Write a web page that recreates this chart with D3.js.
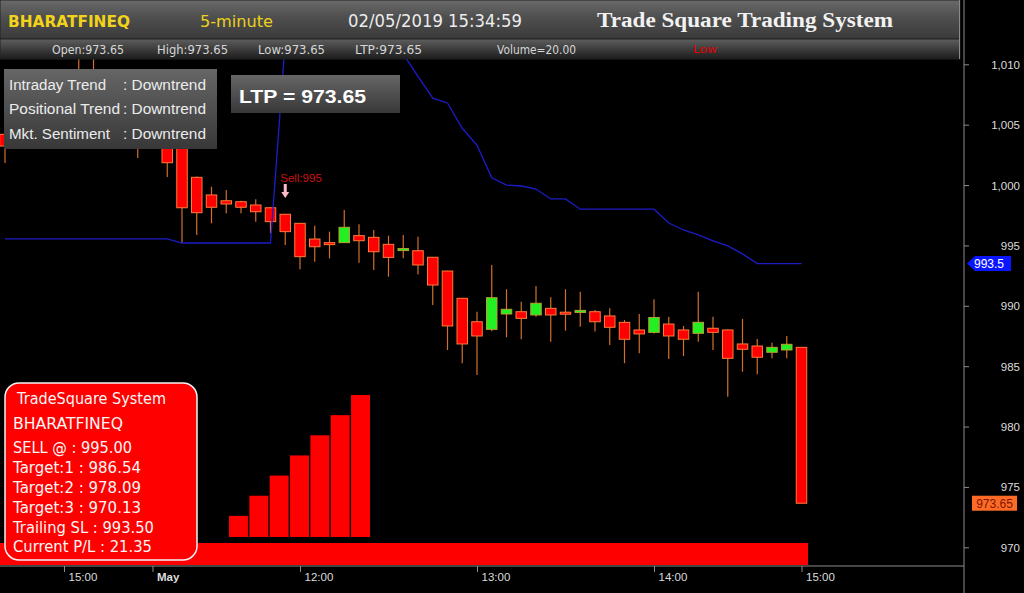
<!DOCTYPE html>
<html>
<head>
<meta charset="utf-8">
<script src="https://cdn.jsdelivr.net/npm/d3@7/dist/d3.min.js"></script>
<style>
  html, body { margin: 0; padding: 0; background: #000; }
  svg { display: block; }
</style>
</head>
<body>
<svg id="chart" width="1024" height="593"></svg>
<script>
// 5-minute candles, oldest first (first few sit behind the trend box)
var openVals  = [1004.2, 1004.5, 1005.5, 1006.0, 1007.2, 1008.6, 1007.0, 1008.4, 1006.3, 1004.8,
                 1006.5, 1004.2, 1003.5, 1000.64, 999.18, 998.70, 998.62, 998.35, 998.12, 997.58,
                 996.83, 995.53, 995.23, 995.23, 995.81, 995.67, 995.09, 994.62, 994.56, 994.02,
                 992.88, 990.62, 988.68, 988.05, 989.32, 989.51, 989.24, 989.79, 989.47, 989.45,
                 989.51, 989.16, 988.63, 988.00, 987.80, 988.49, 988.00, 987.72, 988.14, 988.00,
                 986.84, 986.67, 986.15, 986.34, 986.56];
var highVals  = [1004.8, 1005.6, 1006.4, 1007.2, 1008.3, 1011.0, 1011.2, 1009.0, 1007.0, 1005.5,
                 1007.5, 1005.0, 1004.0, 1000.7, 999.86, 999.59, 998.70, 998.82, 998.15, 997.60,
                 996.85, 996.63, 996.14, 997.93, 996.75, 996.28, 995.81, 995.86, 995.72, 994.05,
                 992.90, 990.65, 989.51, 993.38, 991.37, 990.33, 991.64, 990.71, 991.37, 991.17,
                 989.65, 989.79, 988.82, 989.32, 990.54, 989.10, 988.33, 991.17, 989.10, 988.05,
                 988.91, 987.25, 986.94, 987.50, 986.56];
var lowVals   = [1001.83, 1003.4, 1004.1, 1005.0, 1005.6, 1006.8, 1006.0, 1005.5, 1004.0, 1002.24,
                 1003.0, 1000.67, 995.18, 995.86, 996.83, 997.66, 997.66, 996.97, 996.00, 995.03,
                 993.02, 993.65, 993.93, 995.20, 993.57, 992.96, 992.41, 993.93, 992.60, 990.07,
                 986.34, 985.24, 984.27, 987.90, 987.39, 987.23, 989.10, 987.03, 987.94, 988.27,
                 987.87, 986.76, 985.24, 986.07, 987.70, 985.59, 985.84, 987.03, 986.34, 982.47,
                 984.54, 984.33, 985.65, 985.65, 973.65];
var closeVals = [1003.23, 1004.2, 1004.6, 1005.6, 1006.1, 1007.3, 1008.2, 1006.2, 1004.6, 1003.4,
                 1004.0, 1001.85, 998.12, 997.71, 998.16, 998.43, 998.16, 997.79, 996.97, 996.14,
                 994.07, 994.89, 995.12, 996.50, 995.39, 994.48, 994.01, 994.74, 993.38, 991.72,
                 988.33, 986.84, 987.50, 990.67, 989.71, 988.96, 990.21, 989.24, 989.45, 989.62,
                 988.68, 988.22, 987.23, 987.67, 989.03, 987.50, 987.23, 988.63, 987.80, 985.65,
                 986.40, 985.74, 986.56, 986.81, 973.65];
// trailing stop line
var trailSL   = [995.55, 995.55, 995.55, 995.55, 995.55, 995.55, 995.55, 995.55, 995.55, 995.55,
                 995.55, 995.55, 995.2, 995.2, 995.2, 995.2, 995.2, 995.2, 995.2, 1011.9,
                 1012.0, 1012.0, 1012.0, 1011.8, 1011.6, 1011.4, 1011.2, 1010.85, 1009.0, 1007.2,
                 1006.8, 1004.7, 1003.3, 1000.6, 1000.0, 999.92, 999.67, 998.85, 998.85, 998.0,
                 998.0, 998.0, 998.0, 998.0, 998.0, 996.86, 996.28, 995.87, 995.38, 994.96,
                 994.3, 993.5, 993.5, 993.5, 993.5];
var timeTickIdx    = [4, 10, 20, 32, 44, 54];
var timeTickLabels = ["15:00", "May", "12:00", "13:00", "14:00", "15:00"];
var priceTicks     = [970, 975, 980, 985, 990, 995, 1000, 1005, 1010];
var strengthLevels = [1, 2, 3, 4, 5, 6, 7];
var sellIdx = 19, sellLabel = "Sell:995";
var trendRows  = ["Intraday Trend", "Positional Trend", "Mkt. Sentiment"];
var trendVals  = [": Downtrend", ": Downtrend", ": Downtrend"];
var signalRows = ["TradeSquare System", "BHARATFINEQ", "SELL @ : 995.00", "Target:1 : 986.54",
                  "Target:2 : 978.09", "Target:3 : 970.13", "Trailing SL : 993.50", "Current P/L : 21.35"];
var statRows   = ["Open:973.65", "High:973.65", "Low:973.65", "LTP:973.65", "Volume=20.00"];
var ltp = 973.65, lastSL = 993.5;

var svg = d3.select("#chart");
var W = 1024, H = 593;

var x = d3.scaleLinear().domain([0, openVals.length - 1]).range([5, 801.5]);
var y = d3.scaleLinear().domain([970, 1010]).range([547.3, 64.3]);
var bodyW = 10.5;

var defs = svg.append("defs");
function grad(id, stops) {
  var g = defs.append("linearGradient").attr("id", id)
    .attr("x1", 0).attr("y1", 0).attr("x2", 0).attr("y2", 1);
  stops.forEach(function(s) {
    g.append("stop").attr("offset", s[0]).attr("stop-color", s[1]);
  });
}
grad("hdr1", [[0, "#6a6a6a"], [0.45, "#4e4e4e"], [1, "#3a3a3a"]]);
grad("hdr2", [[0, "#5e5e5e"], [1, "#1c1c1c"]]);
grad("boxg", [[0, "#666666"], [1, "#383838"]]);

svg.append("rect").attr("width", W).attr("height", H).attr("fill", "#000");

// candles
var candles = d3.range(openVals.length).map(function(i) {
  return { i: i, o: openVals[i], h: highVals[i], l: lowVals[i], c: closeVals[i] };
});

var cg = svg.append("g").attr("class", "candles");
cg.selectAll("line.wick")
  .data(candles)
  .enter().append("line")
    .attr("class", "wick")
    .attr("x1", function(d) { return x(d.i); })
    .attr("x2", function(d) { return x(d.i); })
    .attr("y1", function(d) { return y(d.h); })
    .attr("y2", function(d) { return y(d.l); })
    .attr("stroke", "#d0702a")
    .attr("stroke-width", 1.2);

cg.selectAll("rect.body")
  .data(candles)
  .enter().append("rect")
    .attr("class", "body")
    .attr("x", function(d) { return x(d.i) - bodyW / 2; })
    .attr("width", bodyW)
    .attr("y", function(d) { return y(Math.max(d.o, d.c)); })
    .attr("height", function(d) { return Math.max(2, Math.abs(y(d.o) - y(d.c))); })
    .attr("fill", function(d) { return d.c >= d.o ? "#22f022" : "#ff0000"; })
    .attr("stroke", function(d) { return d.c >= d.o ? "#b8a030" : "#ff7a3a"; })
    .attr("stroke-width", 1);

// trailing stop line
var line = d3.line()
  .x(function(d, i) { return x(i); })
  .y(function(d) { return y(d); });
svg.append("path")
  .datum(trailSL)
  .attr("d", line)
  .attr("fill", "none")
  .attr("stroke", "#1c1cc8")
  .attr("stroke-width", 1.3);

// sell signal
var sx = x(sellIdx);
svg.append("text")
  .attr("x", sx - 5).attr("y", 182)
  .attr("fill", "#cc1010")
  .attr("font-family", "Liberation Sans, Arial, sans-serif")
  .attr("font-size", 11.5)
  .text(sellLabel);
svg.append("path")
  .attr("d", "M" + (sx - 1.5) + ",184 h3 v8 h2.5 l-4,6 l-4,-6 h2.5 z")
  .attr("fill", "#ffb8c8");

// signal strength bars and red band
svg.append("rect")
  .attr("x", 0).attr("y", 543).attr("width", 808).attr("height", 22)
  .attr("fill", "#ff0000");
var sb = d3.scaleBand().domain(strengthLevels).range([229, 370]).paddingInner(0.07);
var sh = d3.scaleLinear().domain([0, 7]).range([537, 396]);
svg.selectAll("rect.strength")
  .data(strengthLevels)
  .enter().append("rect")
    .attr("class", "strength")
    .attr("x", function(d) { return sb(d); })
    .attr("width", sb.bandwidth())
    .attr("y", function(d) { return sh(d) - 1; })
    .attr("height", function(d) { return 537 - sh(d) + 1; })
    .attr("fill", "#ff0000");

// axes
var axisColor = "#8c8c8c";
svg.append("line").attr("x1", 964).attr("x2", 964).attr("y1", 0).attr("y2", H)
  .attr("stroke", axisColor);
svg.append("line").attr("x1", 0).attr("x2", 964).attr("y1", 566).attr("y2", 566)
  .attr("stroke", axisColor);

var yAxis = d3.axisRight(y).tickValues(priceTicks).tickSize(5).tickFormat(d3.format(","));
var ya = svg.append("g").attr("transform", "translate(964,0)").call(yAxis);
ya.select(".domain").remove();
ya.selectAll("line").attr("stroke", axisColor);
ya.selectAll("text")
  .attr("x", 56).attr("text-anchor", "end").attr("dy", "0.35em")
  .attr("fill", "#dcdcdc")
  .attr("font-family", "Liberation Sans, Arial, sans-serif").attr("font-size", 11.5);

var xAxis = d3.axisBottom(x).tickValues(timeTickIdx).tickSize(6)
  .tickFormat(function(d, i) { return timeTickLabels[i]; });
var xa = svg.append("g").attr("transform", "translate(0,566)").call(xAxis);
xa.select(".domain").remove();
xa.selectAll("line").attr("stroke", axisColor);
xa.selectAll("text")
  .attr("text-anchor", "start").attr("dx", 4).attr("y", 5).attr("dy", "0.9em")
  .attr("fill", "#dcdcdc")
  .attr("font-family", "Liberation Sans, Arial, sans-serif").attr("font-size", 11.5)
  .attr("font-weight", function(d, i) { return timeTickLabels[i] === "May" ? "bold" : "normal"; });

// price markers on the right axis
var slY = y(lastSL);
svg.append("path")
  .attr("d", "M967," + slY + " l8,-7.5 h36 v15 h-36 z")
  .attr("fill", "#0a16ff");
svg.append("text")
  .attr("x", 974).attr("y", slY + 4.5)
  .attr("fill", "#ffffff")
  .attr("font-family", "Liberation Sans, Arial, sans-serif").attr("font-size", 12)
  .text(lastSL);
var lY = y(ltp);
svg.append("rect")
  .attr("x", 972).attr("y", lY - 7.5).attr("width", 45).attr("height", 15)
  .attr("fill", "#ff6a26");
svg.append("text")
  .attr("x", 994.5).attr("y", lY + 4.5).attr("text-anchor", "middle")
  .attr("fill", "#7a1800")
  .attr("font-family", "Liberation Sans, Arial, sans-serif").attr("font-size", 12)
  .text(d3.format(".2f")(ltp));

// header
svg.append("rect").attr("x", 0).attr("y", 0).attr("width", 960).attr("height", 39)
  .attr("fill", "url(#hdr1)").attr("stroke", "#222");
svg.append("rect").attr("x", 0).attr("y", 39).attr("width", 960).attr("height", 20)
  .attr("fill", "url(#hdr2)").attr("stroke", "#222");
svg.append("line").attr("x1", 959.5).attr("x2", 959.5).attr("y1", 0).attr("y2", 59)
  .attr("stroke", "#8a8a8a");

function txt(t, px, py, opts) {
  var el = svg.append("text").attr("x", px).attr("y", py).text(t)
    .attr("fill", opts.fill || "#fff")
    .attr("font-family", opts.family || "Liberation Sans, Arial, sans-serif")
    .attr("font-size", opts.size || 12)
    .attr("font-weight", opts.weight || "normal");
  if (opts.len) el.attr("textLength", opts.len).attr("lengthAdjust", "spacingAndGlyphs");
  return el;
}
txt("BHARATFINEQ", 8, 27, { fill: "#f2d21a", size: 16, weight: "bold", family: "DejaVu Sans, sans-serif", len: 122 });
txt("5-minute", 200, 27, { fill: "#ecd21c", size: 16, family: "DejaVu Sans, sans-serif", len: 73 });
txt("02/05/2019 15:34:59", 348, 27, { fill: "#ececec", size: 18, family: "DejaVu Sans, sans-serif", len: 174 });
txt("Trade Square Trading System", 597, 27, { fill: "#f2f2f2", size: 20, weight: "bold", family: "Liberation Serif, DejaVu Serif, serif", len: 296 });

var statX = [52, 157, 258, 355, 497], statW = [72, 71, 67, 67, 79];
statRows.forEach(function(s, i) {
  txt(s, statX[i], 53.5, { fill: "#d6d6d6", size: 11.5, family: "DejaVu Sans, sans-serif", len: statW[i] });
});
txt("Low", 693, 53, { fill: "#e00000", size: 10, family: "DejaVu Sans, sans-serif", len: 24 });

// trend box
svg.append("rect").attr("x", 4).attr("y", 69).attr("width", 213).attr("height", 80)
  .attr("fill", "url(#boxg)");
var rowW = [97, 111, 101];
trendRows.forEach(function(r, i) {
  txt(r, 9, 89.5 + i * 24.5, { fill: "#ececec", size: 15.5, len: rowW[i] });
  txt(trendVals[i], 123, 89.5 + i * 24.5, { fill: "#ececec", size: 15.5, len: 83 });
});

// LTP box
svg.append("rect").attr("x", 231).attr("y", 75).attr("width", 169).attr("height", 38)
  .attr("fill", "url(#boxg)");
txt("LTP = " + d3.format(".2f")(ltp), 239, 103, { fill: "#ffffff", size: 19, weight: "bold", len: 127 });

// signal box
svg.append("rect").attr("x", 5).attr("y", 383).attr("width", 192).attr("height", 177)
  .attr("rx", 14).attr("ry", 14)
  .attr("fill", "#ff0000").attr("stroke", "#f4f4f4").attr("stroke-width", 1.5);
var sigY = [404, 429, 453, 473, 493, 513, 533, 552];
var sigW = [149, 110, 119, 128, 128, 128, 141, 139];
signalRows.forEach(function(r, i) {
  txt(r, i === 0 ? 17 : 13, sigY[i], { fill: "#f6f6f6", size: 15, family: "DejaVu Sans, sans-serif", len: sigW[i] });
});
</script>
</body>
</html>
